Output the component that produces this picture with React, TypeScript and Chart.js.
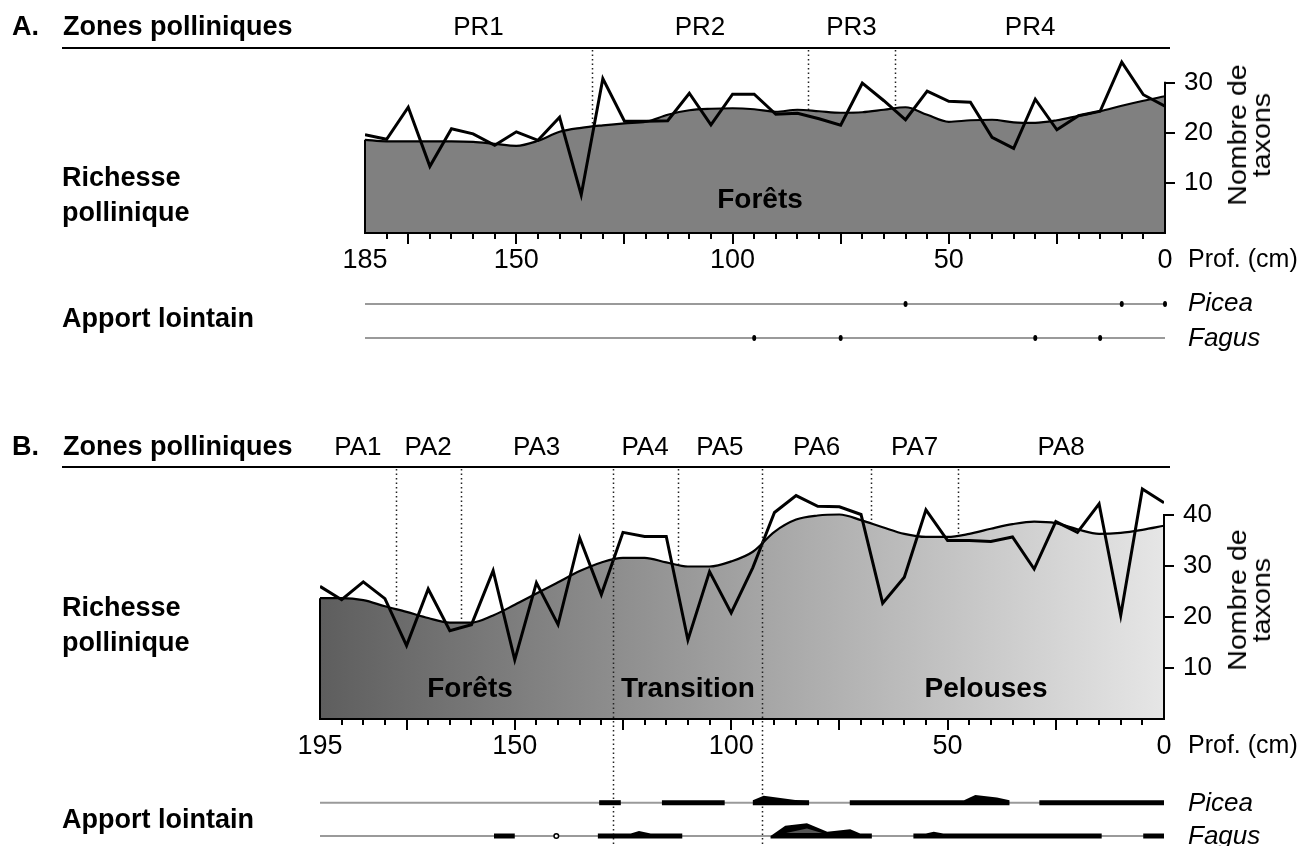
import React, { useEffect, useRef } from "react";
import { Chart, registerables } from "chart.js";

Chart.register(...registerables);

// ---------- Data ----------
const depthsA = [185, 180, 175, 170, 165, 160, 155, 150, 145, 140, 135, 130, 125, 120, 115, 110, 105, 100, 95, 90, 85, 80, 75, 70, 65, 60, 55, 50, 45, 40, 35, 30, 25, 20, 15, 10, 5, 0];
const rawA = [19.6, 18.7, 25.1, 13.3, 20.8, 19.8, 17.5, 20.2, 18.5, 23.1, 7.6, 30.8, 22.3, 22.3, 22.4, 27.9, 21.6, 27.7, 27.7, 23.7, 23.9, 22.8, 21.5, 29.9, 26.4, 22.6, 28.3, 26.3, 26.1, 19.1, 16.9, 26.7, 20.6, 23.4, 24.3, 34.1, 27.6, 25.3];
const smoothA = [18.6, 18.3, 18.3, 18.3, 18.3, 18.2, 17.8, 17.4, 18.4, 20.2, 21.0, 21.5, 21.9, 22.2, 23.6, 24.5, 24.8, 24.9, 24.7, 24.2, 24.6, 24.3, 24.0, 24.1, 24.6, 25.1, 23.6, 22.2, 22.5, 22.6, 22.1, 22.0, 22.5, 23.4, 24.3, 25.4, 26.4, 27.3];

const depthsB = [195, 190, 185, 180, 175, 170, 165, 160, 155, 150, 145, 140, 135, 130, 125, 120, 115, 110, 105, 100, 95, 90, 85, 80, 75, 70, 65, 60, 55, 50, 45, 40, 35, 30, 25, 20, 15, 10, 5, 0];
const rawB = [26.0, 23.4, 26.9, 23.6, 14.4, 25.5, 17.3, 18.5, 29.1, 11.6, 26.7, 18.5, 35.5, 24.4, 36.6, 35.8, 35.8, 15.5, 28.9, 20.8, 29.7, 40.5, 43.8, 41.7, 41.6, 40.1, 22.7, 27.8, 41.0, 35.0, 35.0, 34.8, 35.7, 29.4, 38.7, 36.6, 42.2, 20.3, 45.1, 42.4];
const smoothB = [23.7, 23.7, 23.3, 22.1, 21.0, 19.8, 18.9, 18.9, 20.3, 22.4, 24.6, 26.8, 29.0, 30.7, 31.6, 31.6, 30.7, 29.9, 29.9, 30.9, 32.8, 36.7, 39.1, 39.9, 40.1, 39.0, 37.6, 36.3, 35.7, 35.7, 36.3, 37.3, 38.2, 38.7, 38.4, 37.2, 36.3, 36.5, 37.1, 37.9];

const xLabelsA = [185, 150, 100, 50, 0];
const xLabelsB = [195, 150, 100, 50, 0];
const yTicksA = [10, 20, 30];
const yTicksB = [10, 20, 30, 40];

const zoneNamesA = ["PR1", "PR2", "PR3", "PR4"];
const zoneBoundsA = [132.5, 82.6, 62.4];
const zoneNamesB = ["PA1", "PA2", "PA3", "PA4", "PA5", "PA6", "PA7", "PA8"];
const zoneBoundsB = [177.5, 162.5, 127.4, 112.4, 92.8, 67.7, 47.5];
const vegBoundsB = [127.4, 92.8];

// Apport lointain, panel A: single occurrences (depth, cm)
const piceaA = [60, 10, 0];
const fagusA = [95, 75, 30, 15];

// Apport lointain, panel B: presence segments, [depth, relative height]
const piceaB = [
  [[130.5, 2.5], [125.5, 2.5]],
  [[116, 2.5], [101.5, 2.5]],
  [[95, 2.5], [92.5, 7], [85.2, 2.7], [82, 2.5]],
  [[72.6, 2.5], [46.2, 2.5], [43.6, 7.7], [38.6, 5.3], [35.7, 2.5]],
  [[28.8, 2.5], [0, 2.5]],
];
const fagusB = [
  [[154.8, 2.5], [150, 2.5]],
  [[130.8, 2.5], [123.2, 2.5], [121.3, 5], [118.6, 2.5], [111.3, 2.5]],
  [[90.9, 0], [87.5, 10.3], [82.5, 12.7], [77.8, 4.3], [72.5, 6.7], [70.2, 2.5], [67.5, 2.5]],
  [[57.9, 2.5], [55, 2.5], [53.2, 4.3], [51, 2.5], [14.4, 2.5]],
  [[4.8, 2.5], [0, 2.5]],
];
const fagusBInner = [[87.3, 3], [82.5, 7.5], [79, 3]];
const fagusBRare = [140.4];

// ---------- Helpers ----------
const SANS = '"Liberation Sans", Arial, Helvetica, sans-serif';
const NARROW = '"Liberation Sans Narrow", "Arial Narrow", "Liberation Sans", Arial, sans-serif';

type Seg = number[][];

function drawSeg(ctx: CanvasRenderingContext2D, x: any, y0: number, seg: Seg, half: number) {
  ctx.beginPath();
  ctx.moveTo(x.getPixelForValue(seg[0][0]), y0 + half);
  for (const [d, h] of seg) ctx.lineTo(x.getPixelForValue(d), y0 - h);
  ctx.lineTo(x.getPixelForValue(seg[seg.length - 1][0]), y0 + half);
  ctx.closePath();
  ctx.fill();
}

interface PanelCfg {
  depths: number[];
  raw: number[];
  smooth: number[];
  xMax: number;
  yMax: number;
  yTicks: number[];
  xLabels: number[];
  zoneNames: string[];
  zoneBounds: number[];
  fullBounds: number[];
  gradient: boolean;
  pad: { left: number; right: number; top: number; bottom: number };
  width: number;
  height: number;
  zoneLabelY: number;
  rowY: number[];
  drawRows: (ctx: CanvasRenderingContext2D, x: any, rowY: number[], chart: any) => void;
}

function panelPlugin(cfg: PanelCfg) {
  return {
    id: "panelDecor",
    beforeDatasetsDraw(chart: any) {
      const { ctx, chartArea: ca } = chart;
      const x = chart.scales.x;
      ctx.save();
      ctx.strokeStyle = "#222";
      ctx.lineWidth = 1.5;
      ctx.setLineDash([1.5, 3]);
      cfg.zoneBounds.forEach((d) => {
        if (cfg.fullBounds.includes(d)) return;
        const px = Math.round(x.getPixelForValue(d)) + 0.5;
        ctx.beginPath();
        ctx.moveTo(px, ca.top + 2);
        ctx.lineTo(px, ca.bottom);
        ctx.stroke();
      });
      ctx.restore();
    },
    afterDatasetsDraw(chart: any) {
      const { ctx, chartArea: ca } = chart;
      const x = chart.scales.x;
      const y = chart.scales.y;
      ctx.save();
      // full-height dotted boundaries
      ctx.strokeStyle = "#222";
      ctx.lineWidth = 1.5;
      ctx.setLineDash([1.5, 3]);
      cfg.fullBounds.forEach((d) => {
        const px = Math.round(x.getPixelForValue(d)) + 0.5;
        ctx.beginPath();
        ctx.moveTo(px, ca.top + 2);
        ctx.lineTo(px, chart.height);
        ctx.stroke();
      });
      ctx.setLineDash([]);
      ctx.strokeStyle = "#000";
      ctx.lineWidth = 2;
      // left edge of area
      ctx.beginPath();
      ctx.moveTo(ca.left, y.getPixelForValue(cfg.smooth[0]));
      ctx.lineTo(ca.left, ca.bottom);
      ctx.stroke();
      // bottom axis
      ctx.beginPath();
      ctx.moveTo(ca.left - 1, ca.bottom);
      ctx.lineTo(ca.right + 1, ca.bottom);
      ctx.stroke();
      // right axis
      ctx.beginPath();
      ctx.moveTo(ca.right, ca.bottom + 1);
      ctx.lineTo(ca.right, y.getPixelForValue(cfg.yTicks[cfg.yTicks.length - 1]) - 1);
      ctx.stroke();
      // x tick marks
      for (let d = 5; d < cfg.xMax; d += 5) {
        const px = Math.round(x.getPixelForValue(d));
        const major = d % 25 === 0;
        ctx.beginPath();
        ctx.moveTo(px, ca.bottom);
        ctx.lineTo(px, ca.bottom + (major ? 11 : 6));
        ctx.stroke();
      }
      // zone header line
      ctx.beginPath();
      ctx.moveTo(62, ca.top);
      ctx.lineTo(1170, ca.top);
      ctx.stroke();
      // zone names
      ctx.fillStyle = "#000";
      ctx.font = `26px ${SANS}`;
      ctx.textAlign = "center";
      ctx.textBaseline = "alphabetic";
      const edges = [cfg.xMax, ...cfg.zoneBounds, 0];
      cfg.zoneNames.forEach((n, i) => {
        const mid = (edges[i] + edges[i + 1]) / 2;
        ctx.fillText(n, x.getPixelForValue(mid), cfg.zoneLabelY + 0.358 * 26);
      });
      // rows
      cfg.drawRows(ctx, x, cfg.rowY, chart);
      ctx.restore();
    },
  };
}

function Panel({ cfg, top }: { cfg: PanelCfg; top: number }) {
  const ref = useRef<HTMLCanvasElement>(null);
  useEffect(() => {
    const canvas = ref.current!;
    const rawPts = cfg.depths.map((d, i) => ({ x: d, y: cfg.raw[i] }));
    const smPts = cfg.depths.map((d, i) => ({ x: d, y: cfg.smooth[i] }));
    const chart = new Chart(canvas, {
      type: "line",
      data: {
        datasets: [
          {
            data: rawPts,
            borderColor: "#000",
            borderWidth: 3,
            pointRadius: 0,
            tension: 0,
            fill: false,
          },
          {
            data: smPts,
            borderColor: "#000",
            borderWidth: 2.2,
            pointRadius: 0,
            cubicInterpolationMode: "monotone",
            fill: "origin",
            backgroundColor: (c: any) => {
              if (!cfg.gradient) return "#808080";
              const ca = c.chart.chartArea;
              if (!ca) return "#999";
              const g = c.chart.ctx.createLinearGradient(ca.left, 0, ca.right, 0);
              g.addColorStop(0, "#5e5e5e");
              g.addColorStop(1, "#e6e6e6");
              return g;
            },
          },
        ],
      },
      options: {
        animation: false,
        responsive: false,
        devicePixelRatio: 1,
        layout: { padding: cfg.pad },
        plugins: { legend: { display: false }, tooltip: { enabled: false } },
        events: [],
        scales: {
          x: {
            type: "linear",
            reverse: true,
            min: 0,
            max: cfg.xMax,
            position: "bottom",
            afterBuildTicks: (s: any) => {
              s.ticks = cfg.xLabels.map((v) => ({ value: v }));
            },
            afterFit: (s: any) => {
              s.height = 40;
            },
            grid: { display: false, drawTicks: false },
            border: { display: false },
            ticks: {
              color: "#000",
              padding: 11,
              maxRotation: 0,
              autoSkip: false,
              font: { family: NARROW, size: 27 },
              callback: (v: any) => String(v),
            },
          },
          y: {
            type: "linear",
            position: "right",
            min: 0,
            max: cfg.yMax,
            afterBuildTicks: (s: any) => {
              s.ticks = cfg.yTicks.map((v) => ({ value: v }));
            },
            afterFit: (s: any) => {
              s.width = 60;
            },
            grid: {
              drawOnChartArea: false,
              drawTicks: true,
              tickLength: 10,
              tickWidth: 2,
              tickColor: "#000",
              color: "#000",
              lineWidth: 2,
            },
            border: { display: false },
            ticks: {
              color: "#000",
              padding: 9,
              autoSkip: false,
              font: { family: NARROW, size: 26 },
              callback: (v: any) => String(v),
            },
          },
        },
      },
      plugins: [panelPlugin(cfg)],
    } as any);
    return () => chart.destroy();
  }, []);
  return (
    <canvas
      ref={ref}
      width={cfg.width}
      height={cfg.height}
      style={{ position: "absolute", left: 0, top, width: cfg.width, height: cfg.height }}
    />
  );
}

const cfgA: PanelCfg = {
  depths: depthsA,
  raw: rawA,
  smooth: smoothA,
  xMax: 185,
  yMax: 185 / 5.01,
  yTicks: yTicksA,
  xLabels: xLabelsA,
  zoneNames: zoneNamesA,
  zoneBounds: zoneBoundsA,
  fullBounds: [],
  gradient: false,
  pad: { left: 365, right: 83, top: 48, bottom: 87 },
  width: 1308,
  height: 360,
  zoneLabelY: 26,
  rowY: [304, 338],
  drawRows: (ctx, x, rowY) => {
    ctx.strokeStyle = "#9a9a9a";
    ctx.lineWidth = 2;
    rowY.forEach((ry) => {
      ctx.beginPath();
      ctx.moveTo(x.getPixelForValue(185), ry);
      ctx.lineTo(x.getPixelForValue(0), ry);
      ctx.stroke();
    });
    ctx.fillStyle = "#000";
    const dot = (d: number, ry: number) => {
      ctx.beginPath();
      ctx.ellipse(x.getPixelForValue(d), ry, 2, 3, 0, 0, Math.PI * 2);
      ctx.fill();
    };
    piceaA.forEach((d) => dot(d, rowY[0]));
    fagusA.forEach((d) => dot(d, rowY[1]));
  },
};

const cfgB: PanelCfg = {
  depths: depthsB,
  raw: rawB,
  smooth: smoothB,
  xMax: 195,
  yMax: 252 / 5.1,
  yTicks: yTicksB,
  xLabels: xLabelsB,
  zoneNames: zoneNamesB,
  zoneBounds: zoneBoundsB,
  fullBounds: vegBoundsB,
  gradient: true,
  pad: { left: 320, right: 84, top: 47, bottom: 87 },
  width: 1308,
  height: 426,
  zoneLabelY: 26,
  rowY: [382.7, 416],
  drawRows: (ctx, x, rowY) => {
    ctx.strokeStyle = "#9a9a9a";
    ctx.lineWidth = 2;
    rowY.forEach((ry) => {
      ctx.beginPath();
      ctx.moveTo(x.getPixelForValue(195), ry);
      ctx.lineTo(x.getPixelForValue(0), ry);
      ctx.stroke();
    });
    ctx.fillStyle = "#000";
    piceaB.forEach((s) => drawSeg(ctx, x, rowY[0], s, 2.5));
    fagusB.forEach((s) => drawSeg(ctx, x, rowY[1], s, 2.5));
    ctx.fillStyle = "#555";
    ctx.beginPath();
    fagusBInner.forEach(([d, h], i) => {
      const px = x.getPixelForValue(d);
      if (i === 0) ctx.moveTo(px, rowY[1] - h);
      else ctx.lineTo(px, rowY[1] - h);
    });
    ctx.closePath();
    ctx.fill();
    ctx.strokeStyle = "#000";
    ctx.lineWidth = 1.5;
    fagusBRare.forEach((d) => {
      ctx.beginPath();
      ctx.arc(x.getPixelForValue(d), rowY[1], 2.3, 0, Math.PI * 2);
      ctx.fillStyle = "#fff";
      ctx.fill();
      ctx.stroke();
    });
  },
};

function Txt(props: { x: number; y: number; size: number; bold?: boolean; italic?: boolean; center?: boolean; children: any }) {
  const { x, y, size, bold, italic, center, children } = props;
  const lh = Math.round(size * 1.2);
  const style: any = {
    position: "absolute",
    left: x,
    top: y - lh / 2,
    lineHeight: lh + "px",
    fontSize: size,
    fontWeight: bold ? 700 : 400,
    fontStyle: italic ? "italic" : "normal",
    whiteSpace: "nowrap",
  };
  if (center) style.transform = "translateX(-50%)";
  return <div style={style}>{children}</div>;
}

function VTitle({ cx, cy }: { cx: number; cy: number }) {
  return (
    <div
      style={{
        position: "absolute",
        left: cx,
        top: cy,
        transform: "translate(-50%, -50%) rotate(-90deg) scaleX(1.1)",
        fontSize: 26,
        lineHeight: "24px",
        textAlign: "center",
        whiteSpace: "nowrap",
      }}
    >
      Nombre de
      <br />
      taxons
    </div>
  );
}

export default function App() {
  return (
    <div
      style={{
        position: "absolute",
        left: 0,
        top: 0,
        width: 1308,
        height: 846,
        background: "#fff",
        color: "#000",
        fontFamily: SANS,
        overflow: "hidden",
      }}
    >
      <Panel cfg={cfgA} top={0} />
      <Panel cfg={cfgB} top={420} />

      <Txt x={12} y={26} size={27} bold>A.</Txt>
      <Txt x={63} y={26} size={27} bold>Zones polliniques</Txt>
      <Txt x={62} y={176.7} size={27} bold>Richesse</Txt>
      <Txt x={62} y={212} size={27} bold>pollinique</Txt>
      <Txt x={62} y={318} size={27} bold>Apport lointain</Txt>
      <Txt x={760} y={199} size={28} bold center>Forêts</Txt>
      <Txt x={1188} y={257.5} size={25}>Prof. (cm)</Txt>
      <Txt x={1188} y={302} size={26} italic>Picea</Txt>
      <Txt x={1188} y={337} size={26} italic>Fagus</Txt>
      <VTitle cx={1249} cy={135} />

      <Txt x={12} y={446} size={27} bold>B.</Txt>
      <Txt x={63} y={446} size={27} bold>Zones polliniques</Txt>
      <Txt x={62} y={607} size={27} bold>Richesse</Txt>
      <Txt x={62} y={642} size={27} bold>pollinique</Txt>
      <Txt x={62} y={819} size={27} bold>Apport lointain</Txt>
      <Txt x={470} y={687.5} size={28} bold center>Forêts</Txt>
      <Txt x={688} y={687.5} size={28} bold center>Transition</Txt>
      <Txt x={986} y={687.5} size={28} bold center>Pelouses</Txt>
      <Txt x={1188} y={743.5} size={25}>Prof. (cm)</Txt>
      <Txt x={1188} y={802} size={26} italic>Picea</Txt>
      <Txt x={1188} y={835} size={26} italic>Fagus</Txt>
      <VTitle cx={1249} cy={600} />
    </div>
  );
}
